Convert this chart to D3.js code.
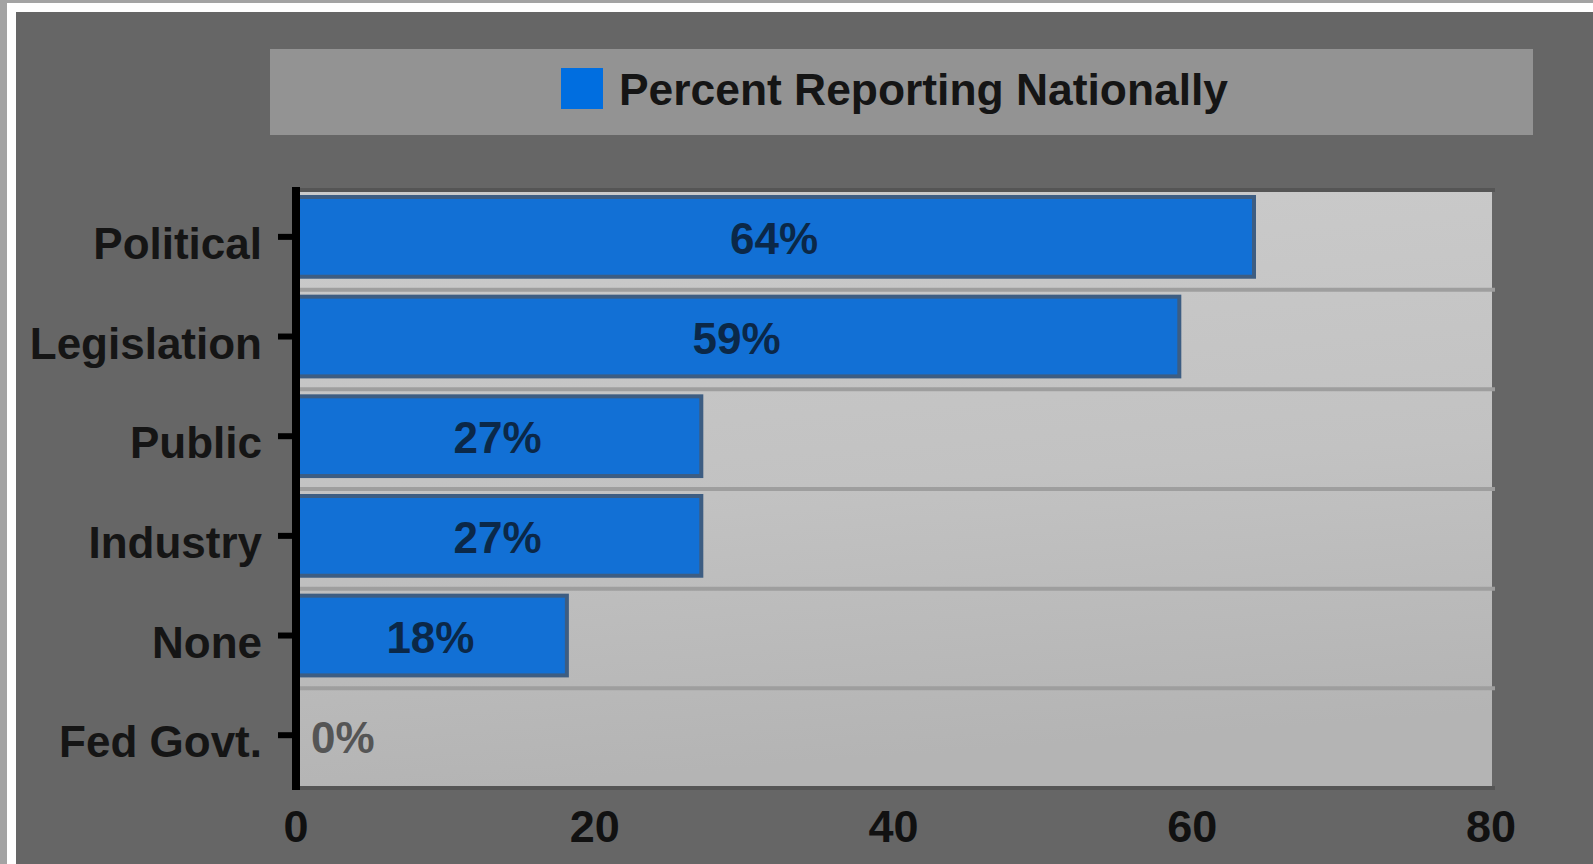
<!DOCTYPE html>
<html>
<head>
<meta charset="utf-8">
<script src="https://cdn.jsdelivr.net/npm/d3@7"></script>
<style>
  html, body { margin: 0; padding: 0; background: #a3a3a3; overflow: hidden; }
  svg { display: block; }
  text { font-family: "Liberation Sans", Arial, sans-serif; }
</style>
</head>
<body>
<svg id="chart" width="1593" height="864"></svg>
<script>
const categories = ["Political", "Legislation", "Public", "Industry", "None", "Fed Govt."];
const values = [64, 59, 27, 27, 18, 0];
const xTicks = [0, 20, 40, 60, 80];
const seriesName = "Percent Reporting Nationally";

const svg = d3.select("#chart");
const W = 1593, H = 864;

// frame
svg.append("rect").attr("x", 0).attr("y", 0).attr("width", W).attr("height", H).attr("fill", "#a3a3a3");
svg.append("rect").attr("x", 7).attr("y", 3).attr("width", W - 7).attr("height", H - 3).attr("fill", "#ffffff");
svg.append("rect").attr("x", 16).attr("y", 12).attr("width", W - 16).attr("height", H - 12).attr("fill", "#666666");

// legend
svg.append("rect").attr("x", 270).attr("y", 49).attr("width", 1263).attr("height", 86).attr("fill", "#939393");
svg.append("rect").attr("x", 561).attr("y", 68).attr("width", 42).attr("height", 41).attr("fill", "#006ee0");
svg.append("text").attr("x", 619).attr("y", 105)
  .attr("font-size", 44).attr("font-weight", "bold").attr("fill", "#151515")
  .attr("textLength", 609).attr("lengthAdjust", "spacingAndGlyphs")
  .text(seriesName);

// scales
const plotTop = 190, plotBottom = 788, plotLeft = 296, plotRight = 1492;
const x = d3.scaleLinear().domain([0, 80]).range([296, 1491]);
const y = d3.scaleBand().domain(categories).range([plotTop, plotBottom]).padding(0);
const step = y.step();
const barOff = 7, barH = step * 0.80;
const barCenter = c => y(c) + barOff + barH / 2;

// plot background gradient
const defs = svg.append("defs");
const grad = defs.append("linearGradient").attr("id", "bg").attr("x1", 0).attr("y1", 0).attr("x2", 0.15).attr("y2", 1);
grad.append("stop").attr("offset", "0%").attr("stop-color", "#cbcbcb");
grad.append("stop").attr("offset", "55%").attr("stop-color", "#c2c2c2");
grad.append("stop").attr("offset", "100%").attr("stop-color", "#b4b4b4");
svg.append("rect").attr("x", plotLeft).attr("y", plotTop).attr("width", plotRight - plotLeft)
  .attr("height", plotBottom - plotTop).attr("fill", "url(#bg)");

// row separators
svg.selectAll("line.sep").data(categories.slice(1)).enter().append("line")
  .attr("class", "sep")
  .attr("x1", plotLeft).attr("x2", plotRight + 3)
  .attr("y1", d => y(d)).attr("y2", d => y(d))
  .attr("stroke", "#9e9e9e").attr("stroke-width", 4);

// top/bottom borders
[plotTop, plotBottom].forEach(yy => {
  svg.append("line").attr("x1", plotLeft).attr("x2", plotRight + 3)
    .attr("y1", yy).attr("y2", yy).attr("stroke", "#555555").attr("stroke-width", 4);
});

// bars
svg.selectAll("rect.bar").data(categories.map((c, i) => ({c, v: values[i]})).filter(d => d.v > 0))
  .enter().append("rect").attr("class", "bar")
  .attr("x", x(0) + 2).attr("y", d => y(d.c) + barOff)
  .attr("width", d => x(d.v) - x(0))
  .attr("height", barH)
  .attr("fill", "#1270d5").attr("stroke", "#3d5d82").attr("stroke-width", 4);

// bar labels
categories.forEach((c, i) => {
  const v = values[i];
  if (v > 0) {
    svg.append("text").attr("x", (x(0) + x(v)) / 2).attr("y", barCenter(c) + 17)
      .attr("text-anchor", "middle").attr("font-size", 44).attr("font-weight", "bold")
      .attr("fill", "#0b2848").text(v + "%");
  } else {
    svg.append("text").attr("x", x(0) + 15).attr("y", barCenter(c) + 18)
      .attr("font-size", 44).attr("font-weight", "bold")
      .attr("fill", "#555555").text(v + "%");
  }
});

// y axis line
svg.append("line").attr("x1", 296).attr("x2", 296).attr("y1", plotTop - 3).attr("y2", plotBottom + 2)
  .attr("stroke", "#000").attr("stroke-width", 8);

// y ticks and labels
categories.forEach(c => {
  svg.append("line").attr("x1", 278).attr("x2", 293)
    .attr("y1", barCenter(c)).attr("y2", barCenter(c))
    .attr("stroke", "#000").attr("stroke-width", 6);
  svg.append("text").attr("x", 262).attr("y", barCenter(c) + 22)
    .attr("text-anchor", "end").attr("font-size", 44).attr("font-weight", "bold")
    .attr("fill", "#151515").text(c);
});

// x tick labels
xTicks.forEach(t => {
  svg.append("text").attr("x", x(t)).attr("y", 842)
    .attr("text-anchor", "middle").attr("font-size", 45).attr("font-weight", "bold")
    .attr("fill", "#111").text(t);
});
</script>
</body>
</html>
